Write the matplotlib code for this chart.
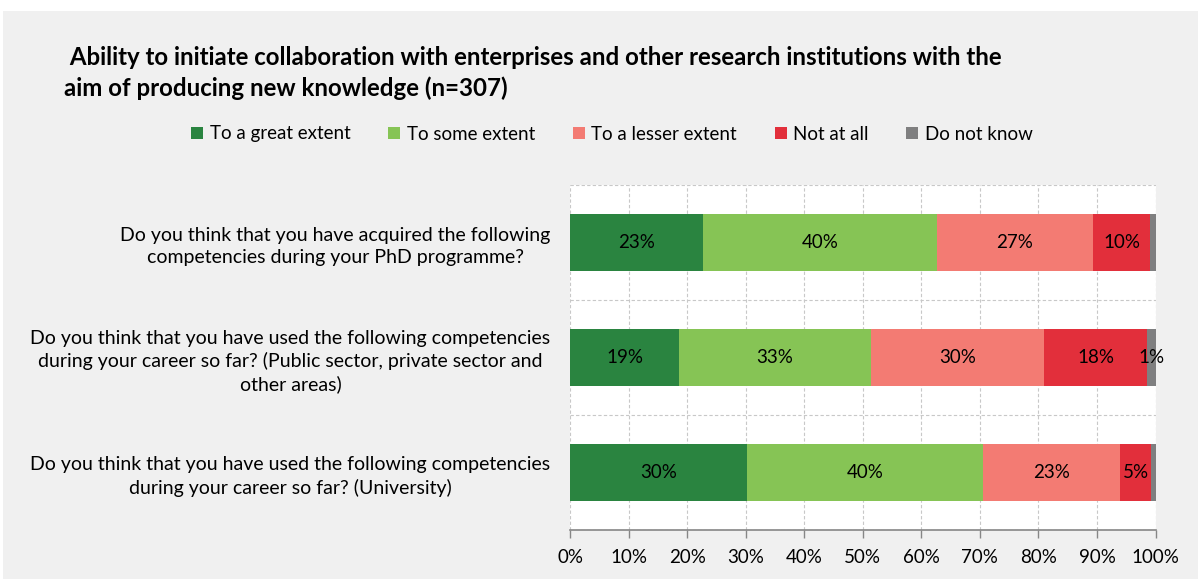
import matplotlib
matplotlib.use("Agg")
import matplotlib.pyplot as plt
from matplotlib.patches import Rectangle
import numpy as np

plt.rcParams['font.family'] = ['Lato', 'DejaVu Sans']

title = (" Ability to initiate collaboration with enterprises and other research institutions with the\n"
         "aim of producing new knowledge (n=307)")

questions = [
    "Do you think that you have acquired the following\ncompetencies during your PhD programme?",
    "Do you think that you have used the following competencies\nduring your career so far? (Public sector, private sector and\nother areas)",
    "Do you think that you have used the following competencies\nduring your career so far? (University)",
]

series_names = ["To a great extent", "To some extent", "To a lesser extent", "Not at all", "Do not know"]
series_colors = ["#2A8440", "#86C455", "#F37B73", "#E22F3B", "#7F7F80"]

great_extent = [22.7, 18.6, 30.3]
some_extent = [39.9, 32.8, 40.3]
lesser_extent = [26.7, 29.5, 23.3]
not_at_all = [9.8, 17.7, 5.4]
do_not_know = [0.9, 1.4, 0.7]

series_values = [great_extent, some_extent, lesser_extent, not_at_all, do_not_know]

x_ticks = [0, 10, 20, 30, 40, 50, 60, 70, 80, 90, 100]
x_tick_labels = [f"{t}%" for t in x_ticks]

W, H = 1198, 579
fig = plt.figure(figsize=(W / 100, H / 100), dpi=100, facecolor="white")
fig.patches.append(Rectangle((3 / W, 0), 1 - 3 / W, 1 - 11 / H, transform=fig.transFigure,
                             facecolor="#F0F0F0", edgecolor="none", zorder=-10))

ax = fig.add_axes([570 / W, 1 - 530 / H, 585.5 / W, 345 / H])
ax.set_facecolor("white")

ypos = np.arange(len(questions))
left = np.zeros(len(questions))
bar_h = 0.5
for name, color, vals in zip(series_names, series_colors, series_values):
    vals = np.array(vals)
    ax.barh(ypos, vals, left=left, height=bar_h, color=color, label=name, zorder=3)
    for y, l, v in zip(ypos, left, vals):
        # segments under one percent carry no label
        if v >= 1:
            ax.text(l + v / 2, y, f"{round(v)}%", ha="center", va="center",
                    fontsize=13.5, color="black", zorder=4)
    left += vals

ax.set_xlim(0, 100)
ax.set_ylim(len(questions) - 0.5, -0.5)

ax.set_xticks(x_ticks)
ax.set_xticklabels(x_tick_labels, fontsize=13.5)
ax.tick_params(axis="x", direction="out", length=6, width=1, color="#868686", pad=8)

ax.set_yticks(ypos)
ax.set_yticklabels(questions, fontsize=14, linespacing=1.35)
for lbl in ax.get_yticklabels():
    lbl.set_multialignment("center")
ax.tick_params(axis="y", which="major", length=0, pad=14)

ax.set_yticks(np.arange(-0.5, len(questions), 1.0), minor=True)
ax.tick_params(axis="y", which="minor", length=0)

grid_kw = dict(color="#C8C8C8", linestyle=(0, (3, 2)), linewidth=0.8)
ax.xaxis.grid(True, **grid_kw)
ax.yaxis.grid(True, which="minor", **grid_kw)
ax.set_axisbelow(True)

for side in ["top", "right", "left"]:
    ax.spines[side].set_visible(False)
ax.spines["bottom"].set_color("#868686")
ax.spines["bottom"].set_linewidth(1.2)

fig.text(64 / W, 1 - 73 / H, title, ha="left", va="center", fontsize=17.3,
         fontweight="bold", linespacing=1.37)

handles, labels = ax.get_legend_handles_labels()
fig.legend(handles, labels, loc="center", bbox_to_anchor=(612 / W, 1 - 134 / H), ncol=5,
           frameon=False, fontsize=13.5, handlelength=0.65, handleheight=0.65,
           handletextpad=0.35, columnspacing=2.0)

fig.savefig("out.png", dpi=100, facecolor=fig.get_facecolor())
